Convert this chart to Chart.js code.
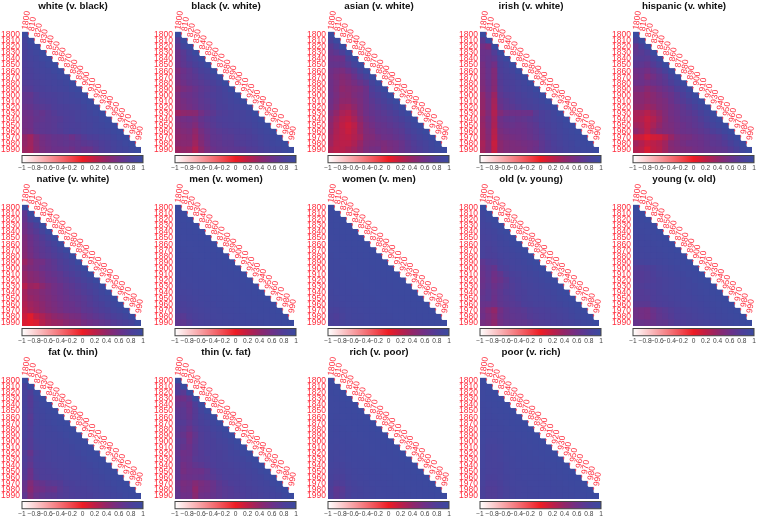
<!DOCTYPE html>
<html>
<head>
<meta charset="utf-8">
<title>Correlations by decade</title>
<script src="https://cdn.jsdelivr.net/npm/chart.js@4"></script>
<style>
  html, body { margin: 0; padding: 0; background: #fff; }
  body { position: relative; width: 757px; height: 518px; overflow: hidden; }
  canvas { position: absolute; }
</style>
</head>
<body>
<script>
const years = [1800,1810,1820,1830,1840,1850,1860,1870,1880,1890,1900,1910,1920,1930,1940,1950,1960,1970,1980,1990];
const legendTicks = [-1,-0.8,-0.6,-0.4,-0.2,0,0.2,0.4,0.6,0.8,1];

// correlation x 100, lower triangle, one row per decade
const white = [[100],[88,100],[86,94,100],[84,90,95,100],[84,88,92,96,100],[82,86,90,92,96,100],[80,84,88,90,92,96,100],[80,82,86,88,90,92,96,100],[78,80,84,86,88,90,92,95,100],[74,76,82,84,86,88,90,92,96,100],[68,68,76,80,82,84,86,88,92,95,100],[68,70,76,78,80,82,86,88,90,92,96,100],[64,66,72,74,76,80,82,84,86,88,92,96,100],[60,62,68,66,72,76,80,82,84,86,88,92,96,100],[58,60,66,68,72,74,76,80,82,86,88,90,92,96,100],[58,60,68,70,72,74,78,80,82,84,86,88,92,94,97,100],[56,58,68,70,72,74,76,80,84,82,86,88,90,92,94,97,100],[40,34,50,58,62,66,66,68,62,70,76,80,82,86,88,92,96,100],[40,34,48,56,60,64,66,68,66,68,72,74,76,80,84,88,92,96,100],[36,32,46,54,58,62,62,64,60,66,62,64,72,78,82,86,90,92,96,100]];
const black = [[100],[76,100],[68,90,100],[62,74,86,100],[62,72,82,90,100],[60,70,76,84,90,100],[52,62,68,76,84,88,100],[56,64,68,72,78,84,90,100],[52,60,66,70,74,78,84,90,100],[46,54,58,64,70,74,78,84,90,100],[52,60,62,66,72,76,80,84,88,92,100],[50,56,60,64,70,74,78,84,86,90,94,100],[50,54,58,62,68,72,76,82,84,88,90,94,100],[36,42,44,46,58,66,72,78,80,84,86,88,92,100],[54,58,60,56,66,72,76,80,82,84,86,88,90,94,100],[50,54,56,50,62,68,74,78,80,82,84,86,88,92,95,100],[46,50,52,42,56,64,70,74,76,78,80,82,84,88,92,95,100],[42,46,48,38,52,60,68,70,74,74,78,78,80,84,88,92,95,100],[44,46,46,34,48,58,66,68,72,72,76,78,80,82,86,90,94,96,100],[36,40,38,26,42,54,62,66,68,70,72,72,76,78,82,86,90,92,96,100]];
const asian = [[100],[84,100],[72,84,100],[66,72,82,100],[62,60,62,84,100],[66,66,66,74,88,100],[60,56,54,62,72,86,100],[58,52,48,52,62,74,86,100],[60,54,46,50,56,64,72,88,100],[60,52,42,46,50,54,62,80,90,100],[62,54,46,44,52,56,62,76,82,90,100],[60,52,42,42,48,54,62,72,78,84,92,100],[58,48,36,34,42,52,60,68,74,78,84,92,100],[52,40,30,26,36,50,60,66,70,74,78,84,92,100],[46,34,24,20,30,44,56,62,68,70,74,78,84,92,100],[42,30,20,14,22,38,52,58,64,66,70,74,78,86,94,100],[40,28,22,16,24,38,50,54,62,64,66,70,74,82,88,94,100],[36,26,22,20,26,32,48,50,56,60,62,66,70,76,82,88,94,100],[34,24,22,22,28,38,50,52,54,52,56,58,64,72,78,84,88,94,100],[28,22,24,28,34,42,52,56,58,50,54,58,64,70,76,80,86,92,96,100]];
const irish = [[100],[72,100],[58,52,100],[62,64,78,100],[62,66,70,88,100],[56,66,58,84,90,100],[54,64,50,80,86,90,100],[54,64,50,78,84,86,92,100],[52,62,48,76,82,84,88,92,100],[50,60,46,74,80,82,86,90,92,100],[42,56,36,70,76,78,82,86,90,94,100],[40,54,32,66,72,76,80,84,86,90,94,100],[40,54,30,62,70,72,76,80,84,86,90,94,100],[36,50,26,50,58,60,60,62,62,74,82,86,92,100],[40,54,30,60,66,68,66,68,72,76,82,86,90,94,100],[38,52,28,58,62,64,62,64,68,72,80,84,88,92,96,100],[36,50,24,54,58,60,60,62,66,70,76,82,86,90,94,96,100],[36,48,22,50,54,56,58,60,64,68,74,80,84,88,92,95,97,100],[30,44,16,44,50,52,54,56,58,60,70,76,82,86,90,92,96,97,100],[32,44,18,44,50,52,52,54,58,62,70,76,80,84,88,92,94,96,97,100]];
const hispanic = [[100],[84,100],[66,84,100],[70,74,80,100],[74,76,74,86,100],[72,70,66,76,86,100],[60,62,58,66,74,86,100],[56,60,50,58,66,74,88,100],[62,62,58,62,66,72,80,90,100],[52,54,46,52,58,64,70,80,88,100],[46,46,40,46,52,58,64,72,80,90,100],[46,46,42,46,50,54,62,70,76,84,92,100],[42,42,36,40,48,52,58,64,70,76,84,92,100],[30,30,24,32,40,50,58,62,68,72,76,84,92,100],[28,26,18,26,36,48,56,60,66,68,72,78,86,94,100],[34,30,20,30,40,50,54,58,62,66,70,74,80,88,94,100],[42,34,22,36,46,50,52,58,62,64,66,70,74,80,86,94,100],[16,14,6,12,14,24,38,50,54,56,60,64,68,70,74,82,92,100],[34,26,18,22,26,34,48,52,56,60,60,62,66,70,72,76,84,92,100],[26,22,10,20,24,34,46,50,52,54,58,60,64,66,68,70,76,84,94,100]];
const native = [[100],[70,100],[66,86,100],[60,72,84,100],[58,68,76,88,100],[52,62,70,78,88,100],[50,60,68,74,80,88,100],[48,58,66,72,76,82,90,100],[46,56,64,70,74,78,84,90,100],[36,48,56,58,66,72,78,84,90,100],[44,52,56,62,66,70,76,80,86,92,100],[38,46,50,56,62,66,70,76,80,86,92,100],[36,44,48,54,60,62,68,72,76,80,86,92,100],[24,36,34,44,52,58,62,68,72,76,80,86,92,100],[32,42,44,50,54,58,62,66,70,74,78,82,88,94,100],[30,38,42,48,52,56,60,64,68,70,74,78,84,90,94,100],[26,34,38,44,50,54,58,62,64,68,72,76,80,84,90,94,100],[22,30,36,42,48,52,56,60,62,64,70,72,76,80,84,90,94,100],[14,6,20,28,36,42,46,50,54,56,62,66,70,74,78,82,86,92,100],[8,4,8,24,32,36,38,44,48,50,56,60,64,68,72,76,80,84,88,100]];
const men = [[100],[97,100],[96,98,100],[96,97,98,100],[96,97,97,98,100],[95,96,97,97,98,100],[95,96,96,97,97,98,100],[95,95,96,96,97,97,98,100],[94,95,95,96,96,97,97,98,100],[94,94,95,95,96,96,97,97,98,100],[93,94,94,95,95,96,96,97,97,98,100],[92,93,94,94,95,95,96,96,97,97,98,100],[92,92,93,94,94,95,95,96,96,97,97,98,100],[90,91,92,93,94,94,95,95,96,96,97,97,98,100],[88,89,90,92,92,94,94,95,95,96,96,97,97,98,100],[86,87,89,90,92,92,94,94,95,95,96,96,97,97,98,100],[84,84,87,89,90,92,92,94,94,95,95,96,96,97,97,98,100],[80,81,84,86,88,90,91,92,94,94,95,95,96,96,97,97,98,100],[74,74,80,84,86,88,90,91,92,93,94,94,95,95,96,96,97,98,100],[70,70,76,82,85,87,89,90,91,92,93,94,94,95,95,96,96,97,98,100]];
const women = [[100],[98,100],[97,98,100],[97,98,98,100],[97,97,98,98,100],[96,97,97,98,98,100],[96,96,97,97,98,98,100],[96,96,97,97,97,98,98,100],[95,96,96,97,97,97,98,98,100],[95,95,96,96,97,97,97,98,98,100],[95,95,95,96,96,97,97,97,98,98,100],[94,95,95,95,96,96,97,97,97,98,98,100],[94,94,95,95,95,96,96,97,97,97,98,98,100],[93,94,94,95,95,95,96,96,97,97,97,98,98,100],[92,93,94,94,95,95,95,96,96,97,97,97,98,98,100],[91,92,93,94,94,95,95,95,96,96,97,97,97,98,98,100],[90,90,92,93,94,94,95,95,95,96,96,97,97,97,98,98,100],[86,85,89,91,92,93,94,94,95,95,96,96,96,97,97,98,98,100],[84,80,86,90,92,92,93,94,94,95,95,96,96,96,97,97,98,98,100],[84,82,87,90,91,92,93,93,94,94,95,95,96,96,96,97,97,98,98,100]];
const old = [[100],[94,100],[92,96,100],[90,92,96,100],[88,90,92,96,100],[86,88,90,94,96,100],[86,86,88,92,94,97,100],[86,84,86,90,92,94,97,100],[86,84,84,88,90,92,94,97,100],[70,76,78,84,88,90,92,94,97,100],[66,72,66,80,84,88,90,92,94,97,100],[64,70,60,68,78,84,86,90,92,94,97,100],[62,68,58,64,72,80,84,88,90,92,94,97,100],[64,70,62,68,74,78,82,86,88,90,92,94,97,100],[66,72,64,70,76,78,82,84,88,88,90,92,94,97,100],[68,72,62,70,74,76,80,84,86,88,88,90,92,95,97,100],[64,64,60,68,72,74,76,82,84,86,86,88,90,92,95,97,100],[58,50,40,58,66,70,72,74,78,80,82,84,86,88,90,94,97,100],[60,54,46,60,66,68,70,72,76,78,80,82,84,86,88,92,95,97,100],[56,52,42,58,64,66,68,68,72,76,78,80,82,84,86,88,92,95,97,100]];
const young = [[100],[96,100],[95,97,100],[94,96,97,100],[93,95,96,97,100],[92,94,95,96,97,100],[92,93,94,95,96,97,100],[91,92,93,94,95,96,97,100],[90,91,92,93,94,95,96,97,100],[86,88,90,91,92,93,95,96,97,100],[78,78,80,84,88,90,92,94,96,97,100],[76,76,78,82,86,88,90,92,94,96,97,100],[76,76,78,80,84,86,88,90,92,94,96,98,100],[78,78,80,82,84,86,88,90,92,93,94,96,98,100],[76,76,78,80,84,86,88,88,90,92,94,95,96,98,100],[76,76,76,80,82,84,86,88,90,90,92,94,95,96,98,100],[72,72,72,78,80,82,84,86,88,90,90,92,94,95,96,98,100],[60,58,56,64,70,74,78,82,84,86,88,90,92,94,95,96,98,100],[60,58,56,62,68,72,76,80,82,84,86,88,90,92,94,95,96,98,100],[66,64,62,64,68,68,74,78,80,84,84,86,88,90,92,94,95,96,98,100]];
const fat = [[100],[84,100],[88,80,100],[88,76,94,100],[88,76,92,96,100],[88,78,92,94,97,100],[86,74,90,92,95,97,100],[88,76,90,92,94,96,98,100],[86,78,90,90,92,94,96,98,100],[86,78,90,90,92,92,94,96,98,100],[84,76,88,90,90,92,92,94,96,98,100],[84,76,86,88,90,90,92,92,94,96,98,100],[78,66,80,84,86,88,90,90,92,94,96,98,100],[80,72,82,84,86,88,88,90,90,92,94,96,98,100],[78,68,80,82,84,86,88,88,90,90,92,94,96,98,100],[76,62,78,80,82,84,86,88,88,90,90,92,94,96,98,100],[74,62,76,80,80,82,84,86,88,88,90,90,92,94,96,98,100],[66,50,62,66,72,74,76,82,84,86,86,88,90,92,94,96,98,100],[64,46,58,60,66,64,74,78,82,84,84,86,88,90,92,94,96,98,100],[70,52,64,68,72,72,76,78,80,82,84,84,86,88,90,92,94,96,98,100]];
const thin = [[100],[76,100],[80,74,100],[60,60,70,100],[66,68,62,80,100],[70,72,64,76,90,100],[72,72,66,76,86,92,100],[76,76,70,78,84,88,94,100],[74,72,64,74,80,84,90,94,100],[70,66,56,68,78,82,86,90,95,100],[74,70,58,70,78,82,84,88,90,95,100],[72,66,62,72,78,80,84,86,88,92,96,100],[68,60,62,72,76,80,82,84,86,90,92,96,100],[72,62,64,74,76,78,82,84,86,88,90,92,96,100],[70,58,62,68,72,76,80,84,84,86,88,90,92,96,100],[70,56,60,62,62,68,76,80,84,84,86,88,90,92,96,100],[70,60,62,64,66,70,74,78,82,84,84,86,88,90,92,96,100],[62,54,56,48,54,58,64,72,76,80,82,84,86,88,90,92,96,100],[66,56,58,42,56,58,64,70,74,76,80,82,84,86,88,90,92,96,100],[68,60,60,46,60,62,66,70,74,76,78,80,84,84,86,88,90,92,96,100]];
const rich = [[100],[97,100],[97,98,100],[96,97,98,100],[96,96,97,98,100],[96,96,97,97,98,100],[96,95,96,97,97,98,100],[95,95,96,96,97,97,98,100],[95,94,95,96,96,97,97,98,100],[95,94,95,95,96,96,97,97,98,100],[94,93,94,95,95,96,96,97,97,98,100],[93,92,93,94,95,95,96,96,97,97,98,100],[92,91,92,94,94,95,95,96,96,97,97,98,100],[92,90,91,93,94,94,95,95,96,96,97,97,98,100],[90,88,89,92,93,94,94,95,95,96,96,97,97,98,100],[88,86,87,90,92,93,94,94,95,95,96,96,97,97,98,100],[87,83,84,89,91,92,93,94,94,95,95,96,96,97,97,98,100],[84,78,80,86,89,91,92,93,94,94,95,95,96,96,97,97,98,100],[80,70,74,83,87,89,91,92,93,94,94,95,95,96,96,97,97,98,100],[82,72,76,84,88,89,90,92,93,93,94,94,95,95,96,96,97,97,98,100]];
const poor = [[100],[97,100],[96,98,100],[96,97,98,100],[95,96,97,98,100],[95,95,96,97,98,100],[95,94,95,96,97,98,100],[94,94,94,95,96,97,98,100],[94,93,93,94,95,96,97,98,100],[94,92,92,93,95,95,96,97,98,100],[93,90,90,92,94,95,95,96,97,98,100],[92,88,88,90,93,94,95,95,96,97,98,100],[91,87,86,88,92,93,94,95,95,96,97,98,100],[90,87,86,88,91,92,94,94,95,95,96,97,98,100],[90,86,86,87,90,92,93,94,94,95,95,96,97,98,100],[89,86,85,87,90,91,92,93,94,94,95,95,96,97,98,100],[88,84,84,86,89,90,92,93,93,94,94,95,95,96,97,98,100],[86,80,80,84,88,90,91,92,93,93,94,94,95,95,96,97,98,100],[84,78,78,82,86,89,90,91,92,93,93,94,94,95,95,96,97,98,100],[84,78,78,82,86,88,90,91,92,92,93,93,94,94,95,95,96,97,98,100]];

const panelTitles = ["white (v. black)","black (v. white)","asian (v. white)","irish (v. white)","hispanic (v. white)",
  "native (v. white)","men (v. women)","women (v. men)","old (v. young)","young (v. old)",
  "fat (v. thin)","thin (v. fat)","rich (v. poor)","poor (v. rich)"];
const panelValues = [white,black,asian,irish,hispanic,native,men,women,old,young,fat,thin,rich,poor];

// colour stops of the legend: value, then rgb
const RAMP = [
  [-1, [255,255,255]],
  [0, [237,28,36]],
  [0.2, [190,30,70]],
  [0.4, [145,38,105]],
  [0.6, [110,48,135]],
  [0.8, [78,62,152]],
  [1, [58,74,159]]
];
const RED = "#ff2d3d";
const FONT = "'Liberation Sans', Arial, sans-serif";

function rampColor(v) {
  let k = 0;
  while (k < RAMP.length - 2 && v > RAMP[k + 1][0]) k++;
  const [v0, lo] = RAMP[k];
  const [v1, hi] = RAMP[k + 1];
  const t = (v - v0) / (v1 - v0);
  const c = lo.map((a, i) => Math.round(a + (hi[i] - a) * t));
  return `rgb(${c[0]},${c[1]},${c[2]})`;
}

// decade names above the diagonal, with the white step covering the label foot
const topLabels = {
  id: "topLabels",
  afterDraw(chart) {
    const { ctx, scales: { x, y } } = chart;
    const cell = y.height / years.length;
    ctx.save();
    years.forEach((year, j) => {
      const px = x.getPixelForValue(j);
      const top = y.getPixelForValue(j) - cell / 2;
      ctx.save();
      ctx.translate(px, top - 2);
      ctx.rotate(-82 * Math.PI / 180);
      ctx.font = `8.5px ${FONT}`;
      ctx.fillStyle = RED;
      ctx.textAlign = "left";
      ctx.textBaseline = "middle";
      ctx.fillText(String(year), 0, 0);
      ctx.restore();
      if (j > 0) {
        ctx.fillStyle = "#fff";
        ctx.fillRect(px - cell / 2 + 1.2, top - cell, cell + 1, cell);
      }
    });
    ctx.restore();
  }
};

const legendBar = {
  id: "legendBar",
  beforeDatasetsDraw(chart) {
    const { ctx, chartArea: a, scales: { x } } = chart;
    const grad = ctx.createLinearGradient(x.getPixelForValue(-1), 0, x.getPixelForValue(1), 0);
    RAMP.forEach(([v, c]) => grad.addColorStop((v + 1) / 2, `rgb(${c.join(",")})`));
    ctx.save();
    ctx.fillStyle = grad;
    ctx.fillRect(a.left, a.top, a.width, a.height);
    ctx.strokeStyle = "#444";
    ctx.lineWidth = 1;
    ctx.strokeRect(a.left, a.top, a.width, a.height);
    ctx.restore();
  }
};

function addCanvas(left, top, width, height) {
  const canvas = document.createElement("canvas");
  canvas.width = width;
  canvas.height = height;
  canvas.style.left = left + "px";
  canvas.style.top = top + "px";
  canvas.style.width = width + "px";
  canvas.style.height = height + "px";
  document.body.appendChild(canvas);
  return canvas;
}

function drawPanel(index) {
  const col = index % 5;
  const row = Math.floor(index / 5);
  const left = Math.round(22.3 + 152.7 * col);
  const top = [32, 205, 378][row];
  const titleTop = top - 32;

  const points = [];
  panelValues[index].forEach((rowValues, i) => {
    rowValues.forEach((v, j) => points.push({ x: j, y: i, v: v / 100 }));
  });

  new Chart(addCanvas(left - 22, titleTop, 146, 32 + 121 + 8), {
    type: "scatter",
    data: {
      datasets: [{
        data: points,
        pointStyle: "rect",
        pointRadius: 5,
        pointBorderWidth: 0,
        pointBackgroundColor: ctx => rampColor(ctx.raw.v)
      }]
    },
    options: {
      responsive: false,
      animation: false,
      layout: { padding: { top: 0, right: 0, bottom: 8, left: 0 } },
      plugins: {
        legend: { display: false },
        tooltip: { enabled: false },
        title: {
          display: true,
          text: panelTitles[index],
          color: "#111",
          font: { family: FONT, size: 9.8, weight: "bold" },
          padding: { top: 0, bottom: 20 }
        }
      },
      scales: {
        x: { type: "linear", min: -0.5, max: 19.5, display: false },
        y: {
          type: "linear",
          min: -0.5,
          max: 19.5,
          reverse: true,
          afterFit: scale => { scale.width = 22; },
          border: { display: false },
          grid: { display: false, drawTicks: false },
          afterBuildTicks: scale => { scale.ticks = years.map((_, i) => ({ value: i })); },
          ticks: {
            autoSkip: false,
            padding: 2,
            color: RED,
            font: { family: FONT, size: 8.5 },
            callback: value => years[value]
          }
        },
        // empty strip on the right so the title stays centred on the whole panel
        rightGap: {
          type: "linear",
          position: "right",
          afterFit: scale => { scale.width = 3; },
          border: { display: false },
          grid: { display: false, drawTicks: false },
          ticks: { display: false }
        }
      }
    },
    plugins: [topLabels]
  });

  new Chart(addCanvas(left - 10, top + 123, 142, 15), {
    type: "scatter",
    data: { datasets: [{ data: [] }] },
    options: {
      responsive: false,
      animation: false,
      layout: { padding: { top: 0.5, left: 10, right: 11, bottom: 0 } },
      plugins: { legend: { display: false }, tooltip: { enabled: false } },
      scales: {
        y: { display: false, min: 0, max: 1 },
        x: {
          type: "linear",
          min: -1,
          max: 1,
          border: { display: false },
          grid: { display: false, drawTicks: false },
          afterBuildTicks: scale => { scale.ticks = legendTicks.map(value => ({ value })); },
          ticks: {
            autoSkip: false,
            maxRotation: 0,
            padding: 1,
            color: "#444",
            font: { family: FONT, size: 6.6 },
            callback: value => String(value).replace("-", "\u2212")
          }
        }
      }
    },
    plugins: [legendBar]
  });
}

panelTitles.forEach((_, i) => drawPanel(i));
</script>
</body>
</html>
